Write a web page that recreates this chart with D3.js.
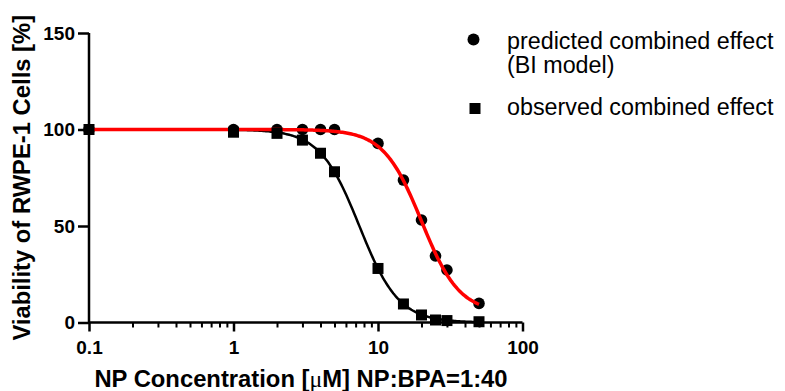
<!DOCTYPE html>
<html>
<head>
<meta charset="utf-8">
<script src="https://cdn.jsdelivr.net/npm/d3@7"></script>
<style>
  html, body { margin: 0; padding: 0; background: #fff; }
  svg { display: block; font-family: "Liberation Sans", Arial, sans-serif; }
</style>
</head>
<body>
<svg id="chart" width="785" height="391"></svg>
<script>
// ---- data ----
const concentrations = [0.1, 1, 2, 3, 4, 5, 10, 15, 20, 25, 30, 50];
const predicted = [100, 100, 100, 100, 100, 100, 92.8, 73.8, 53.1, 34.5, 27.2, 9.9];
const observed  = [100, 98.6, 98, 94.5, 87.7, 78.1, 28, 9.6, 3.9, 1.3, 1, 0.4];
// four-parameter logistic fits (top, bottom, EC50, Hill slope)
const predictedFit = [100, 5, 20, 3.3];
const observedFit  = [100, 0, 7.43, 3.19];
const xMajorTicks = [0.1, 1, 10, 100];
const xTickLabels = ["0.1", "1", "10", "100"];
const xMinorTicks = [0.2,0.3,0.4,0.5,0.6,0.7,0.8,0.9,2,3,4,5,6,7,8,9,20,30,40,50,60,70,80,90];
const yTicks = [0, 50, 100, 150];
const legendLabels = [["predicted combined effect", "(BI model)"], ["observed combined effect"]];

// ---- scales ----
const svg = d3.select("#chart");
const x = d3.scaleLog().domain([0.1, 100]).range([89, 522.5]);
const y = d3.scaleLinear().domain([0, 150]).range([322.5, 33]);

// ---- fitted curves ----
function hill(p) {
  const [top, bottom, ec50, h] = p;
  return c => bottom + (top - bottom) / (1 + Math.pow(c / ec50, h));
}
const curveX = d3.range(0, 301).map(i => Math.pow(10, Math.log10(0.1) + i * (Math.log10(50) - Math.log10(0.1)) / 300));
const line = d3.line().x(d => x(d[0])).y(d => y(d[1]));

const fObs = hill(observedFit);
const fPred = hill(predictedFit);

// axes
const gx = svg.append("g").attr("transform", `translate(0,${y(0)})`);
gx.call(d3.axisBottom(x).tickValues(xMinorTicks).tickSize(5).tickFormat(""));
gx.call(g => g.selectAll(".tick line").attr("stroke-width", 2));
const gxMaj = svg.append("g").attr("transform", `translate(0,${y(0)})`)
  .call(d3.axisBottom(x).tickValues(xMajorTicks).tickSize(9).tickPadding(9)
    .tickFormat((d, i) => xTickLabels[i]));
gxMaj.selectAll(".tick line").attr("stroke-width", 2.5);
gxMaj.select(".domain").attr("stroke-width", 2.5).attr("d", `M${x(0.1)},0H${x(100)}`);
gx.select(".domain").remove();
gxMaj.selectAll("text").attr("font-size", 19).attr("font-weight", "bold")
  .attr("font-family", "Liberation Sans, Arial, sans-serif").attr("fill", "#000");

const gy = svg.append("g").attr("transform", `translate(${x(0.1)},0)`)
  .call(d3.axisLeft(y).tickValues(yTicks).tickSize(11).tickPadding(3).tickFormat(d3.format("d")));
gy.selectAll(".tick line").attr("stroke-width", 2.5);
gy.select(".domain").attr("stroke-width", 2.5).attr("d", `M0,${y(150)}V${y(0)}`);
gy.selectAll("text").attr("font-size", 19).attr("font-weight", "bold")
  .attr("font-family", "Liberation Sans, Arial, sans-serif").attr("fill", "#000");

// curves
svg.append("path").datum(curveX.map(c => [c, fObs(c)]))
  .attr("d", line).attr("fill", "none").attr("stroke", "#000").attr("stroke-width", 2.5);

// predicted circles
svg.append("g").selectAll("circle").data(concentrations).join("circle")
  .attr("cx", d => x(d)).attr("cy", (d, i) => y(predicted[i])).attr("r", 5.8).attr("fill", "#000");

svg.append("path").datum(curveX.map(c => [c, fPred(c)]))
  .attr("d", line).attr("fill", "none").attr("stroke", "#ff0000").attr("stroke-width", 3.5);

// observed squares
const sq = 11;
svg.append("g").selectAll("rect").data(concentrations).join("rect")
  .attr("x", d => x(d) - sq / 2).attr("y", (d, i) => y(observed[i]) - sq / 2)
  .attr("width", sq).attr("height", sq).attr("fill", "#000");

// axis titles
svg.append("text")
  .attr("transform", `translate(30,${(y(0) + y(150)) / 2}) rotate(-90)`)
  .attr("text-anchor", "middle").attr("font-size", 23.8).attr("font-weight", "bold")
  .text("Viability of RWPE-1 Cells [%]");

const xt = svg.append("text").attr("x", 301).attr("y", 386.5)
  .attr("text-anchor", "middle").attr("font-size", 23.8).attr("font-weight", "bold");
xt.append("tspan").text("NP Concentration [");
xt.append("tspan").attr("font-family", "Liberation Serif, serif").attr("font-weight", "normal").text("μ");
xt.append("tspan").text("M] NP:BPA=1:40");

// legend
const lg = svg.append("g");
lg.append("circle").attr("cx", 473.5).attr("cy", 39.5).attr("r", 6).attr("fill", "#000");
lg.append("rect").attr("x", 475 - 5.5).attr("y", 108.5 - 5.5).attr("width", 11).attr("height", 11).attr("fill", "#000");
lg.append("text").attr("x", 507).attr("y", 48.5).attr("font-size", 23.3).text(legendLabels[0][0]);
lg.append("text").attr("x", 507).attr("y", 72.8).attr("font-size", 23.3).text(legendLabels[0][1]);
lg.append("text").attr("x", 507).attr("y", 115).attr("font-size", 23.3).text(legendLabels[1][0]);
</script>
</body>
</html>
